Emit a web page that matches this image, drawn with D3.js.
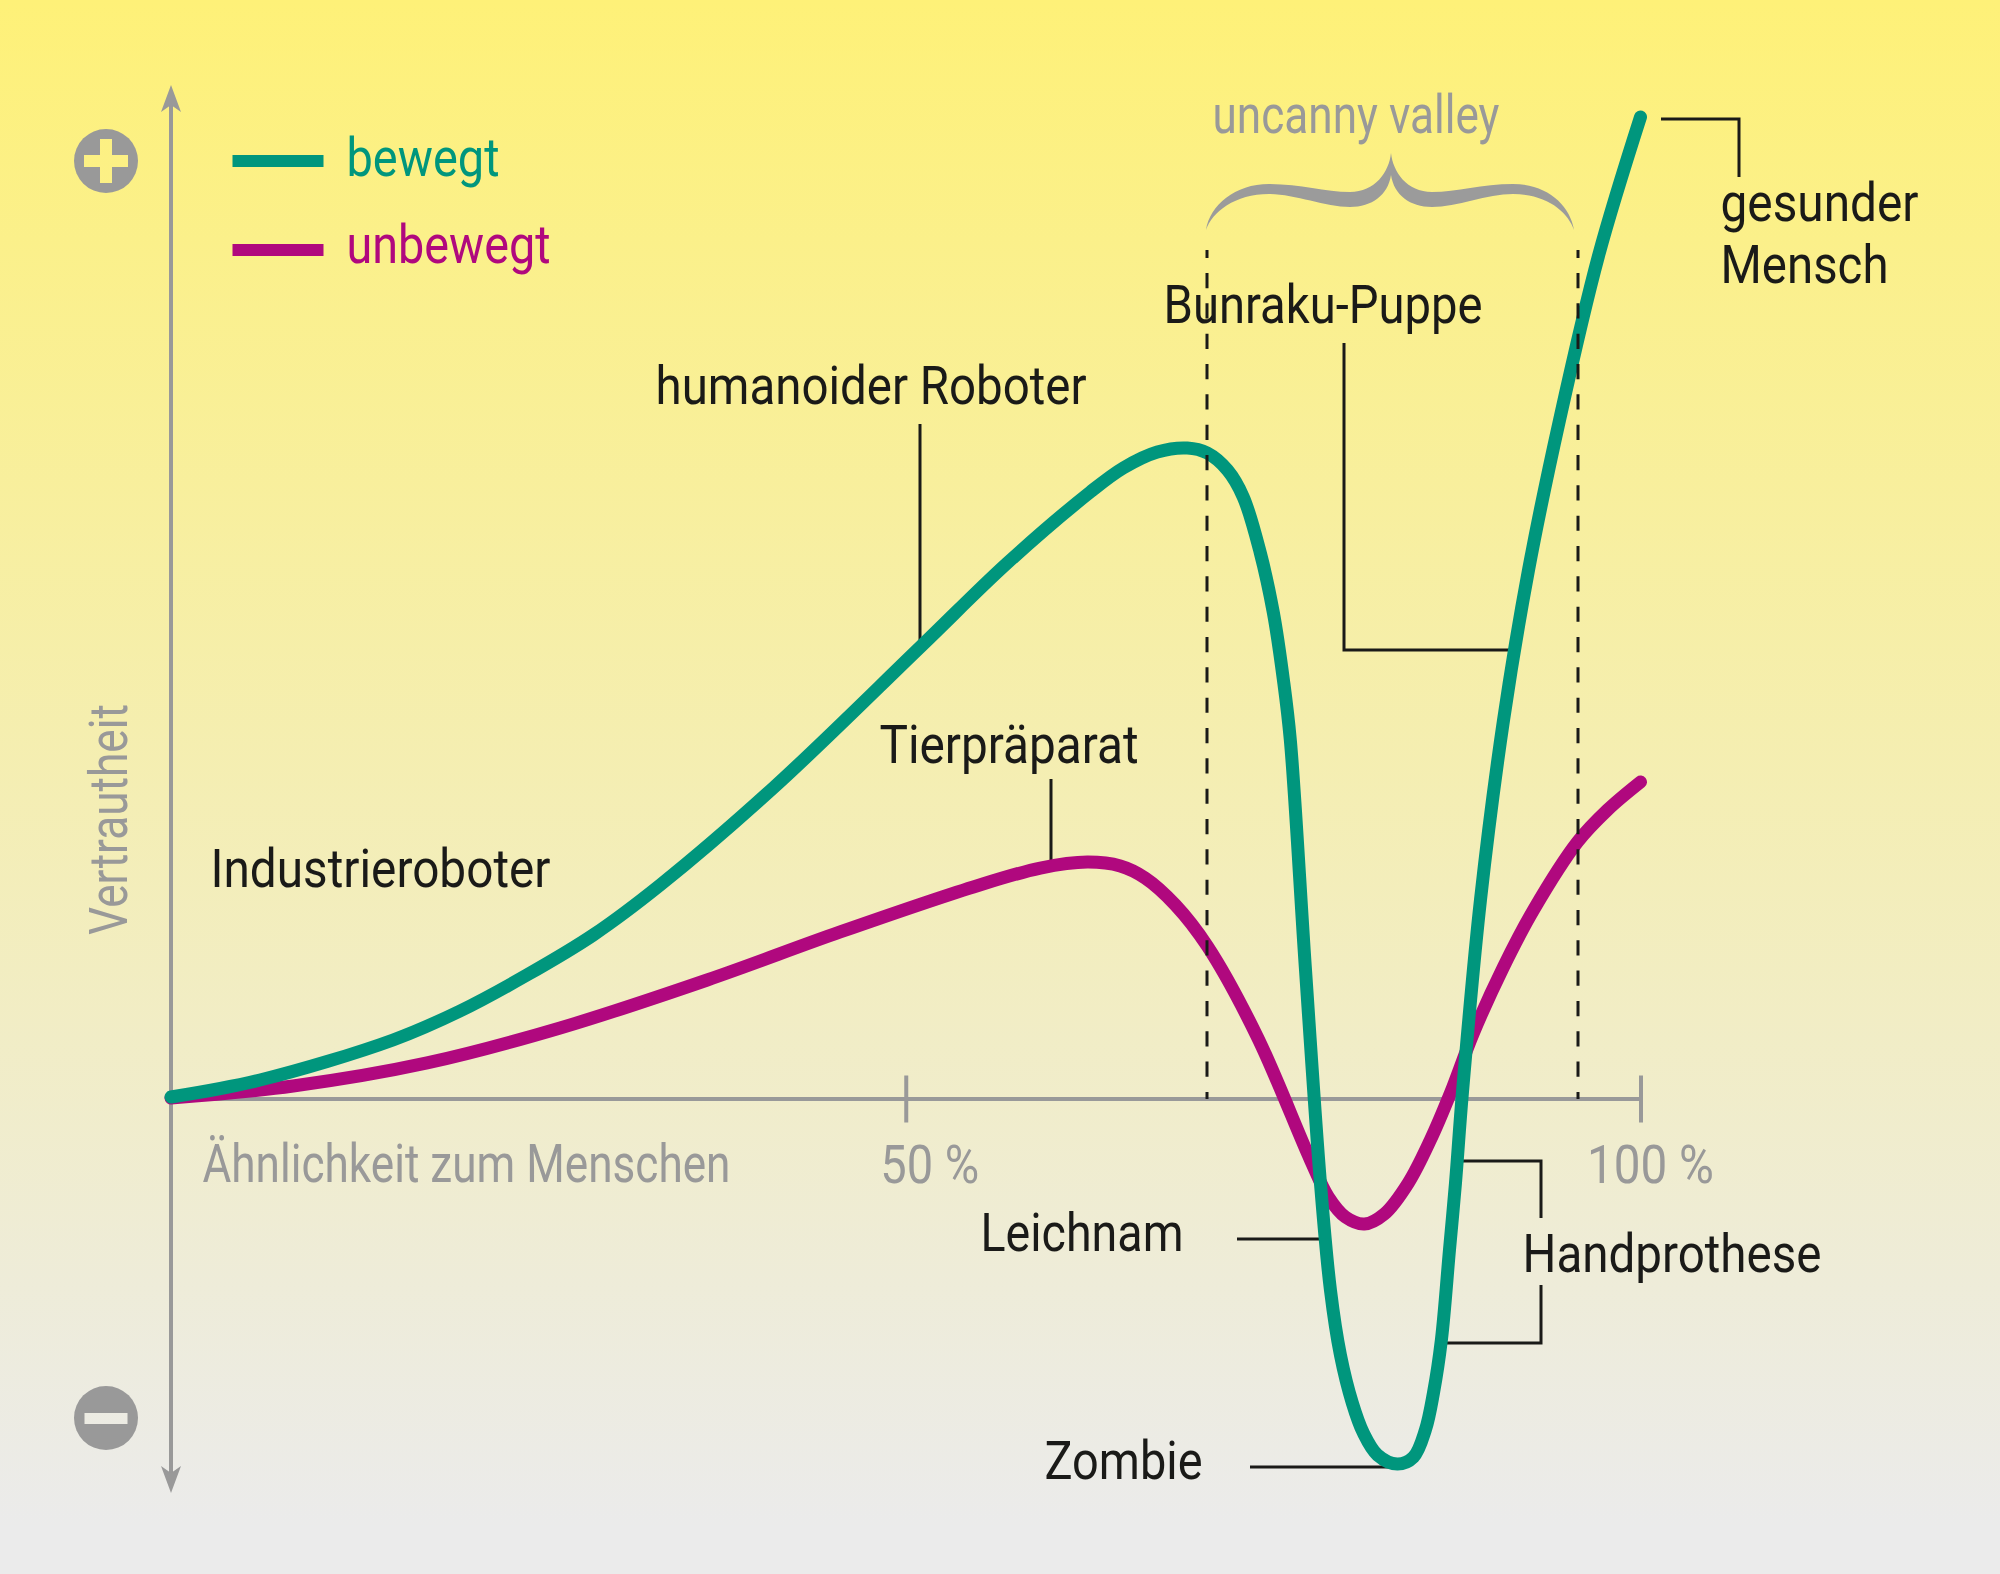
<!DOCTYPE html>
<html>
<head>
  <meta charset="utf-8">
  <title>Uncanny Valley</title>
  <script src="https://d3js.org/d3.v7.min.js"></script>
  <style>
    html, body { margin: 0; padding: 0; background: #ebebeb; }
    svg { display: block; }
    text { font-family: Roboto, "Noto Sans", sans-serif; font-size: 54px; }
    .dark { fill: #1a1a18; }
    .grey { fill: #999999; font-weight: 400; }
    .leader { fill: none; stroke: #1a1a18; stroke-width: 3px; }
    .axis-line { stroke: #999999; stroke-width: 4px; fill: none; }
    .curve { fill: none; stroke-width: 13px; stroke-linecap: round; stroke-linejoin: round; }
  </style>
</head>
<body>
<svg id="chart" width="2000" height="1574"></svg>
<script>
// values: similarity in %, familiarity (top of the curve = 100)
const bewegtX = [0, 6.06, 15.11, 19.67, 24.23, 28.73, 33.29, 40.98, 50.99, 56.91, 62.56, 64.8, 67.12, 69.16, 70.52, 71.89, 72.97, 74.13, 75.02, 75.7, 76.17, 77.19, 78.22, 78.9, 79.58, 80.39, 81.14, 82.1, 83.46, 84.55, 85.36, 85.91, 86.45, 87, 87.41, 87.88, 89.11, 90.68, 92.38, 94.49, 97.14, 100];
const bewegtY = [0.2, 1.93, 6.01, 8.96, 12.63, 16.7, 21.79, 31.67, 46.03, 54.58, 61.81, 64.26, 65.89, 66.29, 65.78, 64.05, 61.3, 55.6, 49.49, 42.67, 36.56, 13.44, -8.55, -19.45, -26.07, -30.96, -34.01, -36.25, -37.17, -36.46, -33.71, -29.94, -24.54, -15.38, -8.55, 0.61, 20.26, 38.59, 53.87, 69.14, 85.85, 100];
const unbewegtX = [0, 8.31, 17.43, 26.48, 36.49, 45.54, 54.6, 59.16, 62.36, 64.6, 66.3, 68.35, 70.52, 73.93, 77.54, 78.76, 79.92, 81.21, 82.57, 84.2, 85.7, 87.07, 88.63, 90.67, 92.72, 95.71, 97.75, 100];
const unbewegtY = [0.1, 1.32, 3.67, 7.23, 12.12, 17.01, 21.59, 23.52, 24.13, 23.73, 22.5, 19.76, 15.58, 6.31, -6.21, -9.98, -12.02, -12.73, -11.71, -8.55, -4.18, 0.61, 6.72, 13.44, 19.25, 26.17, 29.43, 32.28];

const xTicks = [50, 100];
const legendNames = ["bewegt", "unbewegt"];
const legendColors = ["#00967d", "#b0087e"];

const svg = d3.select("#chart");

const xScale = d3.scaleLinear().domain([0, 100]).range([171, 1640.5]);
const yScale = d3.scaleLinear().domain([0, 100]).range([1099, 117]);

// background, also used to knock the cross and bar out of the icons
const defs = svg.append("defs");
const grad = defs.append("linearGradient").attr("id", "bg")
  .attr("gradientUnits", "userSpaceOnUse")
  .attr("x1", 0).attr("y1", 0).attr("x2", 0).attr("y2", 1574);
grad.append("stop").attr("offset", 0).attr("stop-color", "#fef178");
grad.append("stop").attr("offset", 0.97).attr("stop-color", "#ebebeb");
svg.append("rect").attr("width", 2000).attr("height", 1574).attr("fill", "url(#bg)");

// small helper, squeezes Roboto to the condensed width of the original
function label(txt, x, y, w, cls, color) {
  const t = svg.append("text").attr("x", x - 1.5).attr("y", y)
    .attr("textLength", w + 3).attr("lengthAdjust", "spacingAndGlyphs")
    .attr("class", cls).text(txt);
  if (color) t.attr("fill", color).style("fill", color);
  return t;
}

function leader(points) {
  svg.append("path").attr("class", "leader").attr("d", d3.line()(points));
}

// vertical axis with both arrow heads
svg.append("line").attr("class", "axis-line")
  .attr("x1", xScale(0)).attr("x2", xScale(0)).attr("y1", 105).attr("y2", 1473);
svg.append("path").attr("fill", "#999999").attr("d", "M171,85 L181,112 L171,105 L161,112 Z");
svg.append("path").attr("fill", "#999999").attr("d", "M171,1493 L181,1466 L171,1473 L161,1466 Z");

// horizontal axis
const xAxis = d3.axisBottom(xScale).tickValues(xTicks).tickSize(47).tickFormat(d => d + " %");
const xAxisG = svg.append("g").attr("transform", "translate(0,1075.5)").call(xAxis);
xAxisG.select(".domain").remove();
xAxisG.selectAll("line").attr("stroke", "#999999").attr("stroke-width", 4);
xAxisG.selectAll("text").attr("class", "grey").attr("text-anchor", "end")
  .attr("x", 73).attr("y", 107).attr("dy", 0)
  .attr("textLength", d => d === 50 ? 99 : 127).attr("lengthAdjust", "spacingAndGlyphs");
svg.append("line").attr("class", "axis-line")
  .attr("x1", xScale(0)).attr("x2", xScale(100)).attr("y1", yScale(0)).attr("y2", yScale(0));

// plus and minus icons
svg.append("circle").attr("cx", 106).attr("cy", 161).attr("r", 32).attr("fill", "#999999");
svg.append("rect").attr("x", 84).attr("y", 155).attr("width", 44).attr("height", 12).attr("fill", "url(#bg)");
svg.append("rect").attr("x", 100).attr("y", 139).attr("width", 12).attr("height", 44).attr("fill", "url(#bg)");
svg.append("circle").attr("cx", 106).attr("cy", 1418).attr("r", 32).attr("fill", "#999999");
svg.append("rect").attr("x", 84.5).attr("y", 1413).attr("width", 43).attr("height", 11).attr("fill", "url(#bg)");

// leader lines go under the curves
leader([[920, 424], [920, 642]]);
leader([[1051, 779], [1051, 866]]);
leader([[1344, 343], [1344, 650], [1512, 650]]);
leader([[1661, 119], [1739, 119], [1739, 177]]);
leader([[1237, 1239], [1320, 1239]]);
leader([[1250, 1467], [1392, 1467]]);
leader([[1461, 1161], [1541, 1161], [1541, 1218]]);
leader([[1541, 1285], [1541, 1343], [1445, 1343]]);

// curves
const curve = d3.line()
  .x(d => xScale(d[0])).y(d => yScale(d[1]))
  .curve(d3.curveCatmullRom.alpha(0.5));
svg.append("path").attr("class", "curve").attr("stroke", legendColors[1])
  .attr("d", curve(d3.zip(unbewegtX, unbewegtY)));
svg.append("path").attr("class", "curve").attr("stroke", legendColors[0])
  .attr("d", curve(d3.zip(bewegtX, bewegtY)));

// uncanny valley limits, on top of the curves
[1207, 1578].forEach(x => {
  svg.append("line").attr("x1", x).attr("x2", x).attr("y1", 250).attr("y2", 1099)
    .attr("stroke", "#1a1a18").attr("stroke-width", 3)
    .attr("stroke-dasharray", "15.2 15.13").attr("stroke-dashoffset", 7.3);
});

// brace
svg.append("path").attr("fill", "#9b9b9b")
  .attr("d", "M1391,153 C1389,172 1375,192 1350,192 C1325,192 1300,184 1269,184 C1235,184 1210,205 1206,230 C1212,212 1235,194 1269,194 C1295,194 1325,207 1350,207 C1372,207 1388,195 1391,175 C1394,195 1410,207 1432,207 C1457,207 1487,194 1513,194 C1547,194 1568,212 1574,230 C1570,205 1547,184 1513,184 C1482,184 1457,192 1432,192 C1407,192 1393,172 1391,153 Z");

// legend
[161, 250].forEach((y, i) => {
  svg.append("line").attr("x1", 232.5).attr("x2", 323.5).attr("y1", y).attr("y2", y)
    .attr("stroke", legendColors[i]).attr("stroke-width", 12);
});
label(legendNames[0], 348, 176, 150, null, legendColors[0]);
label(legendNames[1], 348, 263, 201, null, legendColors[1]);

// grey labels
label("uncanny valley", 1214, 133, 284, "grey");
label("Ähnlichkeit zum Menschen", 204, 1182, 525, "grey");
svg.append("text").attr("class", "grey")
  .attr("transform", "translate(127,935) rotate(-90)")
  .attr("textLength", 231).attr("lengthAdjust", "spacingAndGlyphs")
  .text("Vertrautheit");

// black labels
label("Bunraku-Puppe", 1165, 323, 316, "dark");
label("gesunder", 1722, 221, 195, "dark");
label("Mensch", 1722, 283, 165, "dark");
label("humanoider Roboter", 657, 404, 428, "dark");
label("Tierpräparat", 881, 763, 256, "dark");
label("Industrieroboter", 212, 887, 337, "dark");
label("Leichnam", 982, 1251, 200, "dark");
label("Zombie", 1046, 1479, 155, "dark");
label("Handprothese", 1524, 1272, 296, "dark");
</script>
</body>
</html>
